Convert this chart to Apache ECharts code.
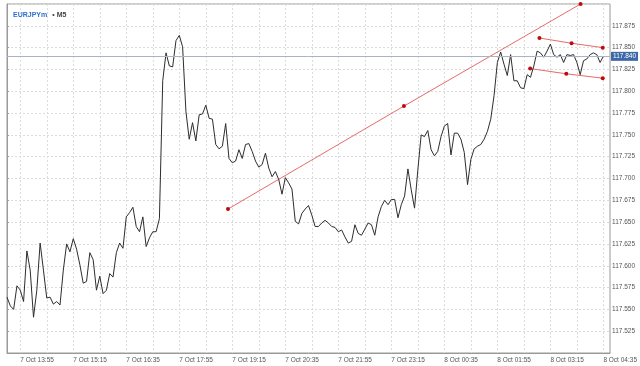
<!DOCTYPE html>
<html><head><meta charset="utf-8">
<script src="https://cdn.jsdelivr.net/npm/echarts@6/dist/echarts.min.js"></script>
<style>html,body{margin:0;padding:0;background:#fff}#c{width:640px;height:366px}</style>
</head><body><div id="c"></div>
<script>
// ---- data ----
const symbolName = 'EURJPYm';
const timeframe = 'M5';
const firstBar = {day: 7, month: 'Oct', hour: 13, minute: 35};
const barMinutes = 5;
const barCount = 183; // slots on the axis (last ones are empty space)
const xTickLabels = ['7 Oct 13:55','7 Oct 15:15','7 Oct 16:35','7 Oct 17:55','7 Oct 19:15','7 Oct 20:35',
  '7 Oct 21:55','7 Oct 23:15','8 Oct 00:35','8 Oct 01:55','8 Oct 03:15','8 Oct 04:35'];
const closePrices = [
  117.564,117.554,117.550,117.577,117.572,117.559,117.617,117.595,117.541,117.572,
  117.626,117.595,117.563,117.564,117.556,117.559,117.555,117.595,117.625,117.616,
  117.631,117.619,117.601,117.580,117.582,117.615,117.607,117.572,117.588,117.568,
  117.572,117.591,117.587,117.615,117.626,117.620,117.656,117.661,117.667,117.645,
  117.639,117.656,117.622,117.632,117.639,117.639,117.654,117.812,117.844,117.829,
  117.828,117.858,117.864,117.851,117.777,117.745,117.764,117.743,117.773,117.774,
  117.784,117.769,117.768,117.739,117.734,117.737,117.763,117.723,117.718,117.720,
  117.733,117.723,117.739,117.740,117.731,117.720,117.713,117.716,117.729,117.712,
  117.702,117.708,117.699,117.682,117.701,117.695,117.688,117.651,117.648,117.660,
  117.665,117.669,117.658,117.645,117.645,117.649,117.652,117.649,117.645,117.644,
  117.639,117.641,117.633,117.626,117.628,117.647,117.637,117.635,117.642,117.649,
  117.647,117.635,117.656,117.668,117.675,117.670,117.676,117.676,117.655,117.670,
  117.680,117.711,117.687,117.666,117.710,117.750,117.748,117.755,117.733,117.726,
  117.731,117.748,117.760,117.763,117.727,117.752,117.752,117.745,117.730,117.693,
  117.722,117.734,117.737,117.739,117.745,117.754,117.768,117.795,117.833,117.845,
  117.831,117.818,117.842,117.812,117.812,117.804,117.803,117.819,117.816,117.829,
  117.846,117.844,117.839,117.846,117.854,117.842,117.839,117.842,117.833,117.842,
  117.841,117.842,117.833,117.819,117.835,117.837,117.842,117.844,117.842,117.833,
  117.840
];
const currentPrice = 117.840;
const yMin = 117.5, yMax = 117.9, yStep = 0.025;
// trend lines: bar position and price of each anchor point
const trendMainX = [66.7, 119.8, 173.1];
const trendMainY = [117.665, 117.783, 117.900];
const channelTopX = [160.7, 170.4, 179.8];
const channelTopY = [117.861, 117.855, 117.850];
const channelBottomX = [157.9, 168.8, 179.8];
const channelBottomY = [117.826, 117.820, 117.815];

// ---- build categories ----
const categories = [];
{
  let t = firstBar.hour * 60 + firstBar.minute;
  for (let i = 0; i < barCount; i++) {
    const day = firstBar.day + Math.floor(t / 1440);
    const mm = t % 1440;
    categories.push(day + ' ' + firstBar.month + ' ' + String(Math.floor(mm / 60)).padStart(2, '0') + ':' + String(mm % 60).padStart(2, '0'));
    t += barMinutes;
  }
}
const firstTickIdx = categories.indexOf(xTickLabels[0]);
const pairs = (xs, ys) => xs.map((x, i) => [x, ys[i]]);

const trendStyle = {
  type: 'line', xAxisIndex: 1, yAxisIndex: 0, symbol: 'circle', symbolSize: 4, clip: false,
  itemStyle: {color: '#c00a0a'}, lineStyle: {color: '#e86a6a', width: 1}, silent: true, z: 3
};

const chart = echarts.init(document.getElementById('c'), null, {renderer: 'canvas'});
chart.setOption({
  animation: false,
  backgroundColor: '#ffffff',
  textStyle: {fontFamily: 'Liberation Sans, Arial, sans-serif'},
  title: {
    text: '{a|' + symbolName + '} {b|• ' + timeframe + '}',
    left: 8, top: 1,
    textStyle: {rich: {a: {color: '#2f6fd0', fontSize: 7}, b: {color: '#444', fontSize: 7}}}
  },
  grid: {left: 7, right: 27, top: 4, bottom: 13, show: true, borderColor: '#9a9a9a', borderWidth: 1},
  xAxis: [{
    type: 'category', data: categories, boundaryGap: false,
    axisLine: {show: true, lineStyle: {color: '#9a9a9a'}},
    axisTick: {show: false},
    axisLabel: {
      interval: (i, v) => xTickLabels.includes(v), align: 'left', margin: 4,
      fontSize: 6.5, color: '#555'
    },
    splitLine: {show: true, interval: (i) => (i - firstTickIdx) % 8 === 0,
      lineStyle: {color: '#dcdcdc', type: [2, 2], width: 1}}
  }, {
    type: 'value', min: 0, max: barCount - 1, show: false
  }],
  yAxis: [{
    type: 'value', position: 'right', min: yMin, max: yMax, interval: yStep, scale: true,
    axisLine: {show: true, lineStyle: {color: '#9a9a9a'}},
    axisTick: {show: true, length: 2, lineStyle: {color: '#9a9a9a'}},
    axisLabel: {showMinLabel: false, showMaxLabel: false, margin: 2, fontSize: 6.5, color: '#555',
      formatter: v => v.toFixed(3)},
    splitLine: {show: true, lineStyle: {color: '#dcdcdc', type: [2, 2], width: 1}}
  }],
  series: [{
    name: 'price', type: 'line', data: closePrices, symbol: 'none',
    lineStyle: {color: '#2d2d2d', width: 1}, z: 4,
    markLine: {
      silent: true, symbol: 'none',
      lineStyle: {color: '#aab3c5', type: 'solid', width: 1},
      label: {position: 'end', formatter: () => currentPrice.toFixed(3), color: '#fff',
        backgroundColor: '#3d68a8', padding: [1, 2, 1, 2], fontSize: 6.5, distance: 1},
      data: [{yAxis: currentPrice}]
    }
  },
  Object.assign({name: 'trend', data: pairs(trendMainX, trendMainY)}, trendStyle),
  Object.assign({name: 'channelTop', data: pairs(channelTopX, channelTopY)}, trendStyle),
  Object.assign({name: 'channelBottom', data: pairs(channelBottomX, channelBottomY)}, trendStyle)
  ]
});
</script>
</body></html>
